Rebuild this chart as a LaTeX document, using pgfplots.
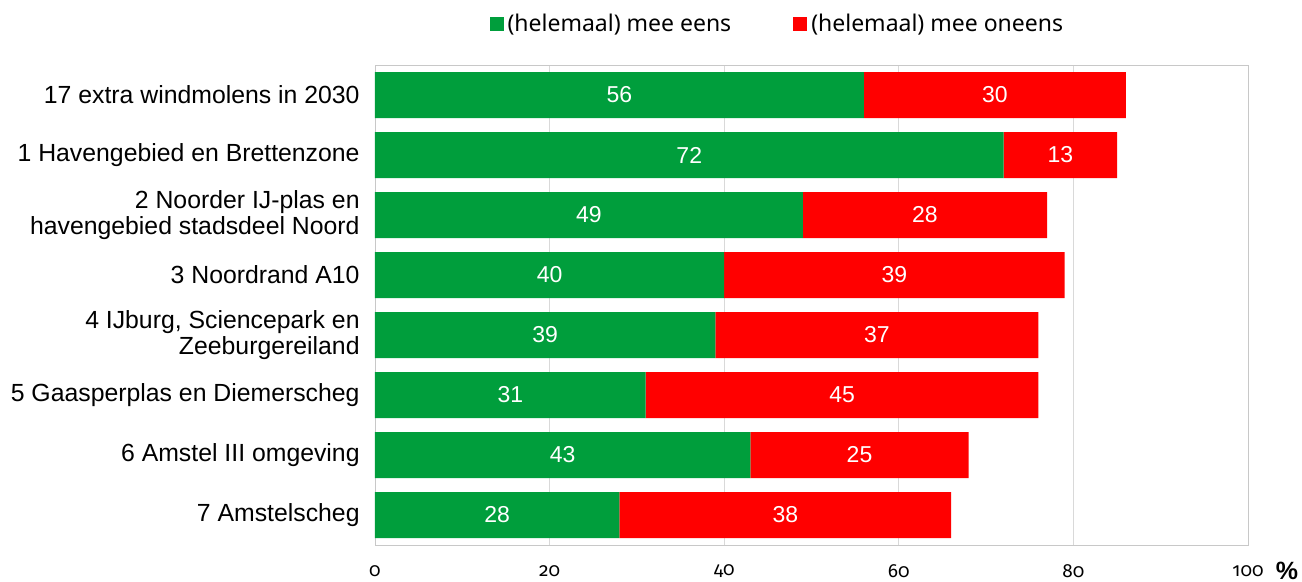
\documentclass[border=0pt]{standalone}
\usepackage{fontspec}
\setmainfont{Liberation Sans}
\newfontfamily\legfont{Noto Sans}
\newfontfamily\tickfont[Numbers=OldStyle]{Fira Sans}
\usepackage{pgfplots}
\pgfplotsset{compat=1.18}
\definecolor{cgreen}{HTML}{009E3C}
\definecolor{cred}{HTML}{FF0000}
\definecolor{cgrid}{HTML}{D9D9D9}
\definecolor{cframe}{HTML}{C8C8C8}
\pgfplotsset{common/.style={
  at={(0,0)}, anchor=south west,
  scale only axis, width=436.5pt, height=240pt,
  xmin=0, xmax=100, ymin=-0.5, ymax=7.5, y dir=reverse}}
\begin{document}
\begin{tikzpicture}
\useasboundingbox (-187.5pt,-18.5pt) rectangle (463.5pt,272.5pt);
\begin{axis}[
  common, name=ax,
  xbar stacked, bar width=23pt,
  xtick={0,20,...,100}, ytick={0,...,7},
  yticklabels={{17 extra windmolens in 2030},{1 Havengebied en Brettenzone},{2 Noorder IJ-plas en\\havengebied stadsdeel Noord},{3 Noordrand A10},{4 IJburg, Sciencepark en\\Zeeburgereiland},{5 Gaasperplas en Diemerscheg},{6 Amstel III omgeving},{7 Amstelscheg}},
  yticklabel style={align=right, font=\fontsize{12.4}{12.6}\selectfont, inner sep=0pt, xshift=-7.5pt},
  xticklabel style={font=\tickfont\fontsize{9.5}{10}\selectfont, anchor=center, inner sep=0pt, yshift=-13pt},
  /pgf/number format/assume math mode=true,
  axis line style={cframe}, major tick length=0pt, tick style={draw=none},
  xmajorgrids, grid style={cgrid},
  legend columns=2,
  legend style={at={(0.462,1)}, anchor=center, yshift=20.5pt, draw=none, fill=none,
    font=\legfont\fontsize{11.5}{12}\selectfont,
    /tikz/every even column/.append style={column sep=29pt}},
  legend image code/.code={\fill[#1,draw=none] (-1.2pt,-3.5pt) rectangle (5.8pt,3.5pt);},
]
\addplot[fill=cgreen, draw=none] coordinates {(56,0) (72,1) (49,2) (40,3) (39,4) (31,5) (43,6) (28,7)};
\addplot[fill=cred, draw=none] coordinates {(30,0) (13,1) (28,2) (39,3) (37,4) (45,5) (25,6) (38,7)};
\legend{(helemaal) mee eens,(helemaal) mee oneens}
\end{axis}
\begin{axis}[common, hide axis,
  nodes near coords, point meta=explicit symbolic,
  every node near coord/.append style={anchor=center, text=white, inner sep=0pt,
    font=\fontsize{11.5}{12}\selectfont}]
\addplot[only marks, mark=*, mark size=0pt, mark options={draw=none, fill=none}] table[meta=l] {
x y l
28 0 56
36 1 72
24.5 2 49
20 3 40
19.5 4 39
15.5 5 31
21.5 6 43
14 7 28
71 0 30
78.5 1 13
63 2 28
59.5 3 39
57.5 4 37
53.5 5 45
55.5 6 25
47 7 38
};
\end{axis}
\node[font=\bfseries\fontsize{12.5}{12.5}\selectfont, anchor=center] at ([xshift=19.5pt,yshift=-13pt]ax.south east) {\%};
\end{tikzpicture}
\end{document}
